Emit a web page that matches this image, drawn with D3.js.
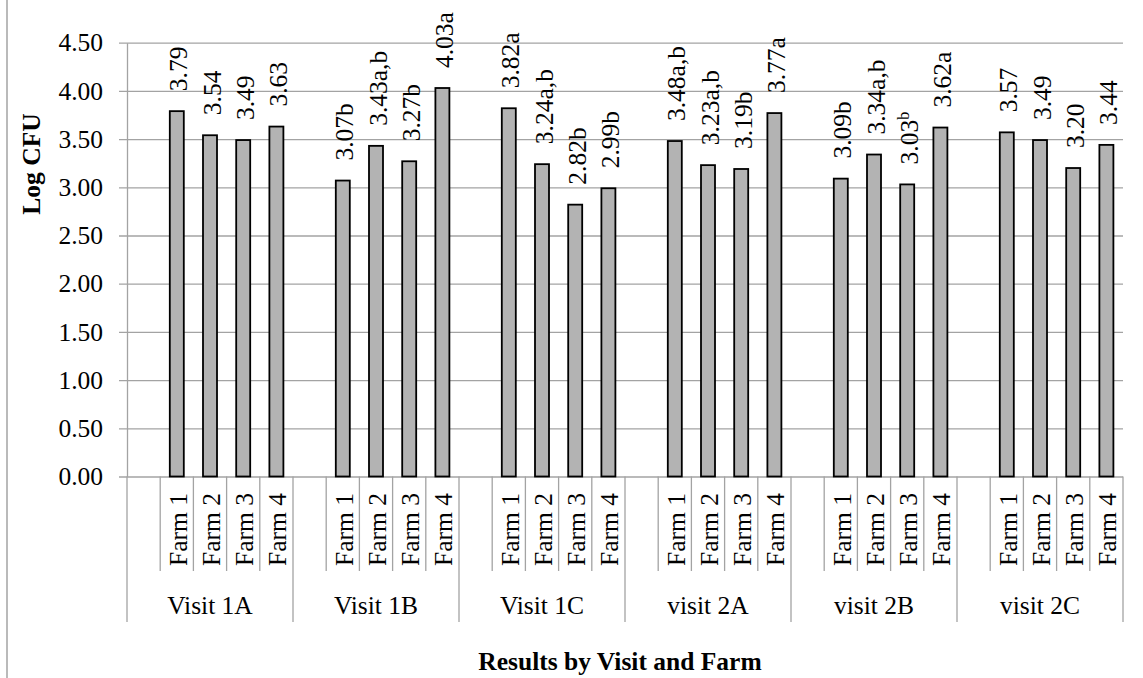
<!DOCTYPE html>
<html>
<head>
<meta charset="utf-8">
<script src="https://cdn.jsdelivr.net/npm/d3@7"></script>
<style>
  html, body { margin: 0; padding: 0; background: #fff; }
  svg { display: block; font-family: "Liberation Serif", "Times New Roman", serif; }
</style>
</head>
<body>
<svg id="chart" width="1143" height="678"></svg>
<script>
// Mean log CFU per farm, grouped by sampling visit
const visits = ["Visit 1A", "Visit 1B", "Visit 1C", "visit 2A", "visit 2B", "visit 2C"];
const farms = ["Farm 1", "Farm 2", "Farm 3", "Farm 4"];
const logCfu = [
  [3.79, 3.54, 3.49, 3.63],
  [3.07, 3.43, 3.27, 4.03],
  [3.82, 3.24, 2.82, 2.99],
  [3.48, 3.23, 3.19, 3.77],
  [3.09, 3.34, 3.03, 3.62],
  [3.57, 3.49, 3.20, 3.44]
];
// Significance letters shown after each value
const letters = [
  ["", "", "", ""],
  ["b", "a,b", "b", "a"],
  ["a", "a,b", "b", "b"],
  ["a,b", "a,b", "b", "a"],
  ["b", "a,b", "b", "a"],
  ["", "", "", ""]
];
// Letters typeset as superscript
const superscriptLetters = [
  [false, false, false, false],
  [false, false, false, false],
  [false, false, false, false],
  [false, false, false, false],
  [false, false, true, false],
  [false, false, false, false]
];
const yTicks = [0, 0.5, 1, 1.5, 2, 2.5, 3, 3.5, 4, 4.5];

const svg = d3.select("#chart");
const plotLeft = 127, plotRight = 1123, plotTop = 42.7, plotBottom = 476.5;
const fontSize = 25.5;
const gridColor = "#a3a3a3";

// outer band per visit, inner band with an empty leading slot then the four farms
const slots = ["gap", ...farms];
const x0 = d3.scaleBand().domain(visits).range([plotLeft, plotRight]).padding(0);
const x1 = d3.scaleBand().domain(slots).range([0, x0.bandwidth()]).padding(0);
const y = d3.scaleLinear().domain([0, 4.5]).range([plotBottom, plotTop]);

// outer frame edge on the left
svg.append("line")
  .attr("x1", 7).attr("x2", 7).attr("y1", 0).attr("y2", 678)
  .attr("stroke", gridColor).attr("stroke-width", 1.5);

// value axis with gridlines
const yAxis = d3.axisLeft(y)
  .tickValues(yTicks)
  .tickFormat(d3.format(".2f"))
  .tickSizeInner(8)
  .tickSizeOuter(0)
  .tickPadding(16);

const yg = svg.append("g").attr("transform", `translate(${plotLeft},0)`).call(yAxis);
yg.select(".domain").attr("stroke", gridColor).attr("stroke-width", 1.3);
yg.selectAll(".tick line")
  .attr("x1", plotRight - plotLeft).attr("x2", -8)
  .attr("stroke", gridColor).attr("stroke-width", 1.3);
yg.selectAll(".tick text")
  .attr("fill", "#000")
  .style("font-size", fontSize + "px")
  .style("font-family", "'Liberation Serif', 'Times New Roman', serif");

// flatten into one record per bar
const records = [];
visits.forEach((v, i) => farms.forEach((f, j) => {
  records.push({ visit: v, farm: f, value: logCfu[i][j], letter: letters[i][j], sup: superscriptLetters[i][j] });
}));

const barW = 14;
const cx = d => x0(d.visit) + x1(d.farm) + x1.bandwidth() / 2;

svg.append("g").selectAll("rect").data(records).join("rect")
  .attr("x", d => cx(d) - barW / 2)
  .attr("y", d => y(d.value))
  .attr("width", barW)
  .attr("height", d => y(0) - y(d.value))
  .attr("fill", "#b3b3b3")
  .attr("stroke", "#000")
  .attr("stroke-width", 1.8);

// rotated value labels above each bar
const labels = svg.append("g").selectAll("text").data(records).join("text")
  .attr("transform", d => `translate(${cx(d) + 10.5},${y(d.value) - 20}) rotate(-90)`)
  .attr("text-anchor", "start")
  .style("font-size", fontSize + "px")
  .attr("fill", "#000");
labels.append("tspan").text(d => d3.format(".2f")(d.value) + (d.sup ? "" : d.letter));
labels.filter(d => d.sup).append("tspan")
  .attr("dy", -9)
  .style("font-size", "16px")
  .text(d => d.letter);

// category axis: farm row and visit row with separators
const catG = svg.append("g");
const farmRowBottom = 571, visitRowBottom = 622;

visits.forEach(v => {
  const gx = x0(v);
  // group separator on the left edge of each visit
  catG.append("line")
    .attr("x1", gx).attr("x2", gx).attr("y1", plotBottom).attr("y2", visitRowBottom)
    .attr("stroke", gridColor).attr("stroke-width", 1.3);
  farms.forEach(f => {
    const fx = gx + x1(f);
    catG.append("line")
      .attr("x1", fx).attr("x2", fx).attr("y1", plotBottom).attr("y2", farmRowBottom)
      .attr("stroke", gridColor).attr("stroke-width", 1.3);
    catG.append("text")
      .attr("transform", `translate(${fx + x1.bandwidth() / 2 + 10},${493}) rotate(-90)`)
      .attr("text-anchor", "end")
      .style("font-size", fontSize + "px")
      .text(f);
  });
  catG.append("text")
    .attr("x", gx + x0.bandwidth() / 2)
    .attr("y", 614)
    .attr("text-anchor", "middle")
    .style("font-size", fontSize + "px")
    .text(v);
});
catG.append("line")
  .attr("x1", plotRight).attr("x2", plotRight).attr("y1", plotBottom).attr("y2", visitRowBottom)
  .attr("stroke", gridColor).attr("stroke-width", 1.3);

// axis titles
svg.append("text")
  .attr("transform", "translate(39.5,164) rotate(-90)")
  .attr("text-anchor", "middle")
  .style("font-size", fontSize + "px")
  .style("font-weight", "bold")
  .text("Log CFU");

svg.append("text")
  .attr("x", 620)
  .attr("y", 670)
  .attr("text-anchor", "middle")
  .style("font-size", fontSize + "px")
  .style("font-weight", "bold")
  .text("Results by Visit and Farm");
</script>
</body>
</html>
